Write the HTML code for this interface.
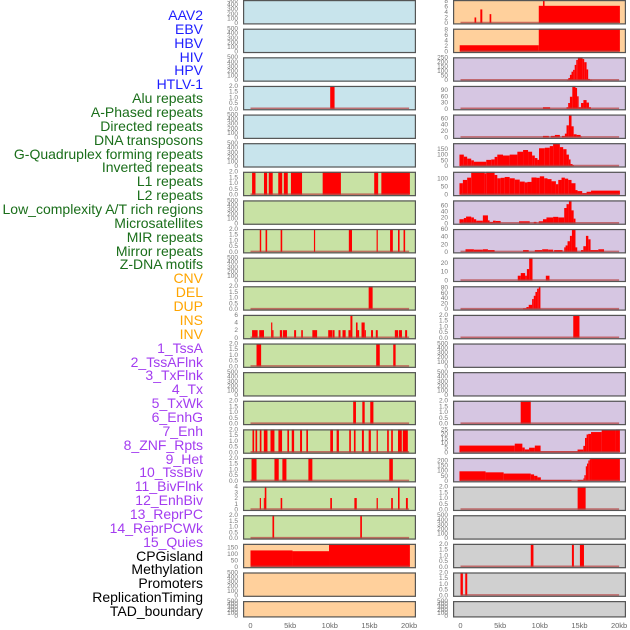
<!DOCTYPE html>
<html><head><meta charset="utf-8"><style>
html,body{margin:0;padding:0;background:#fff;}
#wrap{position:relative;width:630px;height:630px;overflow:hidden;font-family:"Liberation Sans",sans-serif;}
.lab{position:absolute;right:427px;font-size:14px;line-height:14px;white-space:nowrap;}
svg{position:absolute;left:0;top:0;}
</style></head><body>
<div id="wrap">
<div id="labels"></div>
<svg id="chart" width="630" height="630"></svg>
</div>
<script>
// ---- labels ----
const labelNames = ["AAV2","EBV","HBV","HIV","HPV","HTLV-1","Alu repeats","A-Phased repeats","Directed repeats","DNA transposons","G-Quadruplex forming repeats","Inverted repeats","L1 repeats","L2 repeats","Low_complexity A/T rich regions","Microsatellites","MIR repeats","Mirror repeats","Z-DNA motifs","CNV","DEL","DUP","INS","INV","1_TssA","2_TssAFlnk","3_TxFlnk","4_Tx","5_TxWk","6_EnhG","7_Enh","8_ZNF_Rpts","9_Het","10_TssBiv","11_BivFlnk","12_EnhBiv","13_ReprPC","14_ReprPCWk","15_Quies","CPGisland","Methylation","Promoters","ReplicationTiming","TAD_boundary"];
</script>
<script>
// Axis ticks
const xTickValues = [0,5,10,15,20];
const xTickLabels = ["0","5kb","10kb","15kb","20kb"];
const tEmpty = [0,100,200,300,400,500];
const tBin = [0,0.5,1,1.5,2];

// segments: [startKb, endKb, value]
const L3 = [[10.05,10.6,2]];
const L6 = [[0.2,0.63,2],[1.7,2.1,2],[2.3,2.8,2],[3.5,4.0,2],[4.2,4.7,2],[5.1,6.5,2],[9.1,11.4,2],[15.6,16.1,2],[16.5,20.1,2]];
const L8 = [[1.17,1.35,2],[1.9,2.1,2],[3.8,4.0,2],[8.0,8.15,2],[12.4,12.8,2],[15.9,16.05,2],[17.6,17.95,2],[18.6,18.8,2],[19.3,19.5,2]];
const L10 = [[14.9,15.4,2]];
const L11 = [[0.2,0.9,2],[1.1,1.7,2],[2.6,2.75,4],[2.75,2.9,2],[3.7,4.0,2],[4.1,4.6,2],[5.5,5.75,2],[6.4,6.6,2],[7.8,8.4,2],[9.8,10.3,2],[10.35,10.6,2],[11.1,11.35,2],[11.6,12.0,2],[12.35,12.6,2],[12.6,12.85,6],[13.3,13.5,4],[13.5,13.7,2],[14.0,14.4,4],[14.4,14.55,2],[15.2,15.45,2],[15.8,16.05,2],[18.2,18.6,2],[18.7,19.1,2],[19.5,19.75,2]];
const L12 = [[0.76,1.34,2],[15.85,16.3,2],[18.0,18.3,2]];
const L14 = [[12.95,13.3,2],[14.1,14.4,2],[15.1,15.5,2]];
const L15 = [[0.25,0.46,2],[0.63,0.84,2],[1.17,1.38,2],[1.68,2.14,2],[2.52,3.02,2],[3.52,3.98,2],[4.65,4.86,2],[5.2,5.5,2],[6.25,6.5,2],[7.04,7.25,2],[10.06,10.4,2],[10.86,11.15,2],[12.45,12.66,2],[13.04,13.25,2],[14.05,14.3,2],[14.9,15.18,2],[15.9,16.06,2],[17.23,17.44,2],[17.74,17.95,2],[18.6,19.08,2],[19.2,19.84,2]];
const L16 = [[0.13,0.76,2],[3.02,3.56,2],[4.02,4.53,2],[7.3,7.8,2],[17.5,17.95,2]];
const L17 = [[1.17,1.32,2],[1.68,1.8,2],[1.8,2.0,4],[3.8,4.0,2],[10.06,10.27,2],[13.1,13.4,2],[15.9,16.06,2],[17.74,17.95,2],[18.6,18.8,4],[19.6,19.84,2]];
const L18 = [[2.77,2.98,2],[13.84,14.05,2]];
const L19 = [[0,5.3,128],[5.3,9.9,122],[9.9,20.1,180]];
const R0 = [[1.77,1.98,2],[2.5,2.75,4.9],[3.67,3.88,3.2],[9.87,20.1,6.2],[10.4,10.6,9]];
const R1 = [[-0.1,9.87,2.3],[9.87,20.1,9]];
const R2 = [[13.4,13.6,5],[13.6,13.8,25],[13.8,14.0,60],[14.0,14.2,95],[14.2,14.4,115],[14.4,14.6,170],[14.6,14.8,225],[14.8,15.4,255],[15.4,15.6,235],[15.6,15.9,200],[15.9,16.1,120],[16.1,16.3,15],[16.3,16.6,4]];
const R3 = [[10.4,11.3,8],[13.37,13.58,8],[13.58,13.8,28],[13.8,14.1,58],[14.1,14.5,110],[14.5,14.7,100],[14.7,14.9,60],[14.9,15.2,8],[15.2,15.5,28],[15.5,15.9,42],[15.9,16.2,30],[16.2,16.45,8]];
const R4 = [[10.4,11.14,5],[11.4,11.9,5],[11.9,12.53,8],[12.8,13.16,5],[13.16,13.37,12],[13.37,13.67,38],[13.67,14.0,72],[14.0,14.27,35],[14.27,14.64,10],[14.64,15.15,8],[15.15,15.27,3]];
const R5 = [[-0.13,0.42,100],[0.42,0.84,82],[0.84,1.35,65],[1.35,1.69,50],[1.69,3.25,38],[3.25,3.88,54],[3.88,4.3,58],[4.3,4.64,80],[4.64,5.36,100],[5.36,6.2,92],[6.2,7.17,100],[7.17,7.89,125],[7.89,8.52,140],[8.52,9.03,125],[9.03,9.37,92],[9.37,9.7,70],[9.7,9.9,55],[9.9,10.63,155],[10.63,11.26,160],[11.26,11.68,174],[11.68,12.53,195],[12.53,12.95,165],[12.95,13.37,147],[13.37,13.67,100],[13.67,13.88,58],[13.88,14.13,18],[14.13,14.3,8]];
const R6 = [[-0.13,0.3,70],[0.3,0.84,90],[0.84,1.35,104],[1.35,3.04,140],[3.04,3.25,130],[3.25,4.3,140],[4.3,4.64,120],[4.64,5.06,100],[5.06,5.57,103],[5.57,6.2,108],[6.2,6.84,100],[6.84,7.47,92],[7.47,8.1,80],[8.1,8.44,75],[8.44,8.95,78],[8.95,9.58,105],[9.58,10.0,103],[10.0,10.55,112],[10.55,10.97,100],[10.97,11.48,95],[11.48,12.03,82],[12.03,12.33,64],[12.33,12.74,90],[12.74,13.16,104],[13.16,13.58,98],[13.58,14.0,90],[14.0,14.5,70],[14.5,14.76,28],[14.76,15.35,22],[15.35,15.9,10],[15.9,16.46,18],[16.46,20.1,25]];
const R7 = [[-0.13,0.42,14],[0.42,0.7,18],[0.7,1.35,23],[1.35,1.69,20],[1.69,1.98,14],[1.98,2.82,9],[2.82,3.46,27],[3.46,3.67,10],[3.67,4.1,5],[4.1,4.43,9],[4.43,5.06,8],[7.38,8.73,7],[9.24,9.58,5],[9.87,10.4,7],[10.4,10.84,14],[10.84,11.68,20],[11.68,12.33,22],[12.33,13.08,20],[13.08,13.37,52],[13.37,13.67,65],[13.67,14.0,78],[14.0,14.27,44],[14.27,14.5,16]];
const R8 = [[0.63,1.69,7],[1.69,2.82,6],[2.82,3.46,7],[3.46,4.3,5],[7.89,8.6,5],[9.37,10.3,5],[10.3,11.05,7],[11.05,11.68,6],[11.81,12.87,5],[13.08,13.25,12],[13.25,13.5,17],[13.5,13.8,28],[13.8,14.05,42],[14.05,14.5,60],[14.5,14.72,12],[15.19,15.49,5],[15.49,15.82,15],[15.82,16.12,42],[16.12,16.4,33],[16.4,17.38,5],[17.38,18.1,7]];
const R9 = [[7.22,7.6,5.5],[7.6,8.15,8.5],[8.15,8.37,5.5],[8.37,8.66,13],[8.66,9.08,26],[10.76,11.22,5.5]];
const R10 = [[7.89,8.31,3],[8.31,8.6,8],[8.6,9.03,16],[9.03,9.24,37],[9.24,9.45,49],[9.45,9.66,63],[9.66,9.87,75],[9.87,10.08,84]];
const R11 = [[14.22,15.0,2]];
const R14 = [[7.59,8.86,2]];
const R15 = [[-0.13,6.84,7.3],[6.84,7.8,9.4],[7.8,8.1,5.2],[8.1,8.65,3.1],[8.65,9.37,5],[9.37,10.1,7.3],[10.1,14.76,1],[14.76,15.49,3],[15.49,15.7,7],[15.7,15.9,15.6],[15.9,16.1,19.4],[16.1,16.46,20],[16.46,17.8,22],[17.8,19.6,24],[19.6,20.1,25]];
const R16 = [[-0.13,3.16,94],[3.16,5.44,84],[5.44,8.86,72],[8.86,9.28,64],[9.28,9.7,50],[9.7,10.13,35],[10.13,14.0,9],[14.77,15.5,9],[15.5,15.62,25],[15.62,15.8,56],[15.8,15.95,143],[15.95,16.12,170],[16.12,16.29,200],[16.29,16.46,213],[16.46,20.1,235]];
const R17 = [[14.77,15.78,2]];
const R19 = [[8.86,9.2,2],[14.05,14.3,2],[15.06,15.57,2]];
const R20 = [[0,0.3,2],[0.6,0.85,2]];
</script>
<script>
const NS="http://www.w3.org/2000/svg";
const svg=document.getElementById('chart');
const labelsDiv=document.getElementById('labels');
const purple="#a33cf0";
function labColor(i){ if(i<6) return "#1e1eff"; if(i<19) return "#1a6e1a"; if(i<24) return "#ffa500"; if(i<39) return purple; return "#000"; }
labelNames.forEach((t,i)=>{
  const d=document.createElement('div');
  d.className='lab';
  d.textContent=t;
  d.style.top=(8+i*13.86)+'px';
  d.style.color=labColor(i);
  
  
  labelsDiv.appendChild(d);
});

const BLUE="#c8e4ec", GREEN="#c8e2a4", ORANGE="#ffd09c", PURPLE="#d6c6e2", GREY="#d0d0d0";
const colX=[243,453], panelW=173;
function xScale(col,kb){ return colX[col]+7.5+kb*7.93; }
function rowTop(i){ return i*28.62; }
function rowH(i){ return i===21?16.5:24.5; }

// panel config: [segments, ymax, ticks, bg]
const leftPanels=[
 [null,500,tEmpty,BLUE],[null,500,tEmpty,BLUE],[null,500,tEmpty,BLUE],[L3,2,tBin,BLUE],[null,500,tEmpty,BLUE],[null,500,tEmpty,BLUE],
 [L6,2,tBin,GREEN],[null,500,tEmpty,GREEN],[L8,2,tBin,GREEN],[null,500,tEmpty,GREEN],[L10,2,tBin,GREEN],[L11,6,[0,2,4,6],GREEN],
 [L12,2,tBin,GREEN],[null,500,tEmpty,GREEN],[L14,2,tBin,GREEN],[L15,2,tBin,GREEN],[L16,2,tBin,GREEN],[L17,4,[0,1,2,3,4],GREEN],[L18,2,tBin,GREEN],
 [L19,180,[0,50,100,150],ORANGE],[null,500,tEmpty,ORANGE],[null,500,tEmpty,ORANGE]];
const rightPanels=[
 [R0,8.3,[0,2,4,6,8],ORANGE],[R1,8.3,[0,2,4,6,8],ORANGE],[R2,255,[0,50,100,150,200,250],PURPLE],[R3,110,[0,30,60,90],PURPLE],
 [R4,72,[0,20,40,60],PURPLE],[R5,200,[0,50,100,150],PURPLE],[R6,140,[0,50,100],PURPLE],[R7,78,[0,20,40,60],PURPLE],
 [R8,60,[0,20,40,60],PURPLE],[R9,26,[0,10,20],PURPLE],[R10,84,[0,20,40,60,80],PURPLE],[R11,2,tBin,PURPLE],
 [null,500,tEmpty,PURPLE],[null,500,tEmpty,PURPLE],[R14,2,tBin,PURPLE],[R15,25,[0,5,10,15,20,25],PURPLE],[R16,225,[0,50,100,150,200],PURPLE],
 [R17,2,tBin,GREY],[null,500,tEmpty,GREY],[R19,2,tBin,GREY],[R20,2,tBin,GREY],[null,500,tEmpty,GREY]];

function mk(tag,attrs){ const e=document.createElementNS(NS,tag); for(const k in attrs) e.setAttribute(k,attrs[k]); return e; }
const defs=mk('defs',{}); svg.appendChild(defs);

function drawPanel(col,i,cfg){
  const [segs,ymax,ticks,bg]=cfg;
  const top=rowTop(i), h=rowH(i), x0=colX[col];
  const base=top+h-1.5;
  const yScale=v=>base-(v/ymax)*(base-top);
  const g=mk('g',{});
  
  
  svg.appendChild(g);
  const cid='c'+col+'_'+i;
  const cp=mk('clipPath',{id:cid}); cp.appendChild(mk('rect',{x:x0,y:top,width:panelW,height:h})); defs.appendChild(cp);
  g.appendChild(mk('rect',{x:x0,y:top,width:panelW,height:h,fill:bg}));
  const marks=mk('g',{'clip-path':'url(#'+cid+')'}); g.appendChild(marks);
  if(segs){
    segs.forEach((s,k)=>{
      const xa=xScale(col,s[0]), xb=xScale(col,s[1]);
      const yt=Math.max(yScale(s[2]),top);
      const r=mk('rect',{x:xa,y:yt,width:Math.max(xb-xa,1),height:base-yt,fill:'#ff0000'});
      
      
      marks.appendChild(r);
    });
    marks.appendChild(mk('line',{x1:xScale(col,0),x2:xScale(col,20),y1:base-0.5,y2:base-0.5,stroke:'#b84040','stroke-opacity':0.7,'stroke-width':1.6}));
  }
  g.appendChild(mk('rect',{x:x0+0.6,y:top+0.6,width:panelW-1.2,height:h-1.2,fill:'none',stroke:'#555','stroke-width':1.2}));
  ticks.forEach(t=>{
    const tx=mk('text',{x:x0-5,y:yScale(t)+2,'font-size':6.5,'text-anchor':'end',fill:'#777','font-family':'Liberation Sans, sans-serif'});
    tx.textContent=(ticks===tBin)?t.toFixed(1):String(t);
    
    
    g.appendChild(tx);
  });
}
leftPanels.forEach((c,i)=>drawPanel(0,i,c));
rightPanels.forEach((c,i)=>drawPanel(1,i,c));
[0,1].forEach(col=>{
  xTickValues.forEach((v,k)=>{
    const t=mk('text',{x:xScale(col,v),y:628,'font-size':7.5,'text-anchor':'middle',fill:'#666','font-family':'Liberation Sans, sans-serif'});
    t.textContent=xTickLabels[k];
    
    
    svg.appendChild(t);
  });
});
</script>
</body></html>
